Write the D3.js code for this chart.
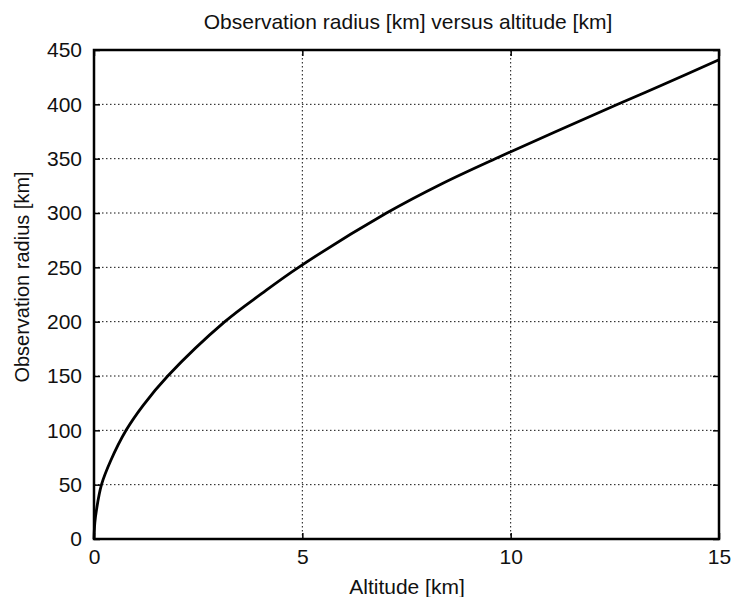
<!DOCTYPE html>
<html><head><meta charset="utf-8">
<script src="https://cdn.jsdelivr.net/npm/d3@7"></script>
<style>html,body{margin:0;padding:0;background:#fff;} text{font-family:"Liberation Sans",Arial,sans-serif;fill:#111;}</style>
</head><body><svg id="c" width="732" height="597"></svg>
<script>
const altitude = [0, 0.02, 0.06, 0.18, 0.4, 0.77, 1.18, 1.77, 3.14, 4.03, 4.91, 7.02, 8.35, 9.63, 12.57, 13.65, 15];
const radius   = [0, 15, 27, 50, 72, 100, 123, 150, 200, 226, 250, 300, 327, 350, 400, 418, 441];
const xTicks = [0, 5, 10, 15];
const yTicks = [0, 50, 100, 150, 200, 250, 300, 350, 400, 450];
const titleText = "Observation radius [km] versus altitude [km]";
const xLabel = "Altitude [km]";
const yLabel = "Observation radius [km]";

const L = 94, R = 719, T = 50, B = 539;
const svg = d3.select("#c");
const x = d3.scaleLinear().domain([0, 15]).range([L, R]);
const y = d3.scaleLinear().domain([0, 450]).range([B, T]);

// grid
const grid = svg.append("g").attr("stroke", "#111").attr("stroke-width", 1).attr("stroke-dasharray", "1.5,2.5");
grid.selectAll("line.v").data(xTicks.slice(1, -1)).join("line")
  .attr("x1", d => x(d)).attr("x2", d => x(d)).attr("y1", T).attr("y2", B);
grid.selectAll("line.h").data(yTicks.slice(1, -1)).join("line")
  .attr("x1", L).attr("x2", R).attr("y1", d => y(d)).attr("y2", d => y(d));

// curve
const pts = altitude.map((a, i) => [a, radius[i]]);
svg.append("path").datum(pts)
  .attr("fill", "none").attr("stroke", "#000").attr("stroke-width", 2.8)
  .attr("d", d3.line().x(d => x(d[0])).y(d => y(d[1])).curve(d3.curveCatmullRom.alpha(0.5)));

// axes
const fs = 21;
const yAx = svg.append("g").attr("transform", `translate(${L},0)`)
  .call(d3.axisLeft(y).tickValues(yTicks).tickSize(0).tickPadding(12));
const yAxR = svg.append("g").attr("transform", `translate(${R},0)`)
  .call(d3.axisLeft(y).tickValues(yTicks).tickSize(6).tickFormat(""));
const yAxL2 = svg.append("g").attr("transform", `translate(${L},0)`)
  .call(d3.axisRight(y).tickValues(yTicks).tickSize(6).tickFormat(""));
const xAx = svg.append("g").attr("transform", `translate(0,${B})`)
  .call(d3.axisBottom(x).tickValues(xTicks).tickSize(0).tickPadding(10));
const xAxT = svg.append("g").attr("transform", `translate(0,${B})`)
  .call(d3.axisTop(x).tickValues(xTicks).tickSize(6).tickFormat(""));
const xAxT2 = svg.append("g").attr("transform", `translate(0,${T})`)
  .call(d3.axisBottom(x).tickValues(xTicks).tickSize(6).tickFormat(""));
[yAx, yAxR, yAxL2, xAx, xAxT, xAxT2].forEach(g => {
  g.select(".domain").remove();
  g.selectAll("line").attr("stroke", "#000").attr("stroke-width", 1.5);
  g.selectAll("text").attr("font-size", fs).attr("font-family", "Liberation Sans, Arial, sans-serif").attr("fill", "#111");
});

// box
svg.append("path").attr("fill", "none").attr("stroke", "#000").attr("stroke-width", 2.5)
  .attr("d", `M${L},${T}H${R}V${B}H${L}Z`);

// labels
svg.append("text").attr("x", 408).attr("y", 29).attr("text-anchor", "middle").attr("font-size", 21).text(titleText);
svg.append("text").attr("x", 407).attr("y", 594).attr("text-anchor", "middle").attr("font-size", 21).text(xLabel);
svg.append("text").attr("transform", "translate(29,277) rotate(-90)").attr("text-anchor", "middle").attr("font-size", 20).text(yLabel);
</script></body></html>
